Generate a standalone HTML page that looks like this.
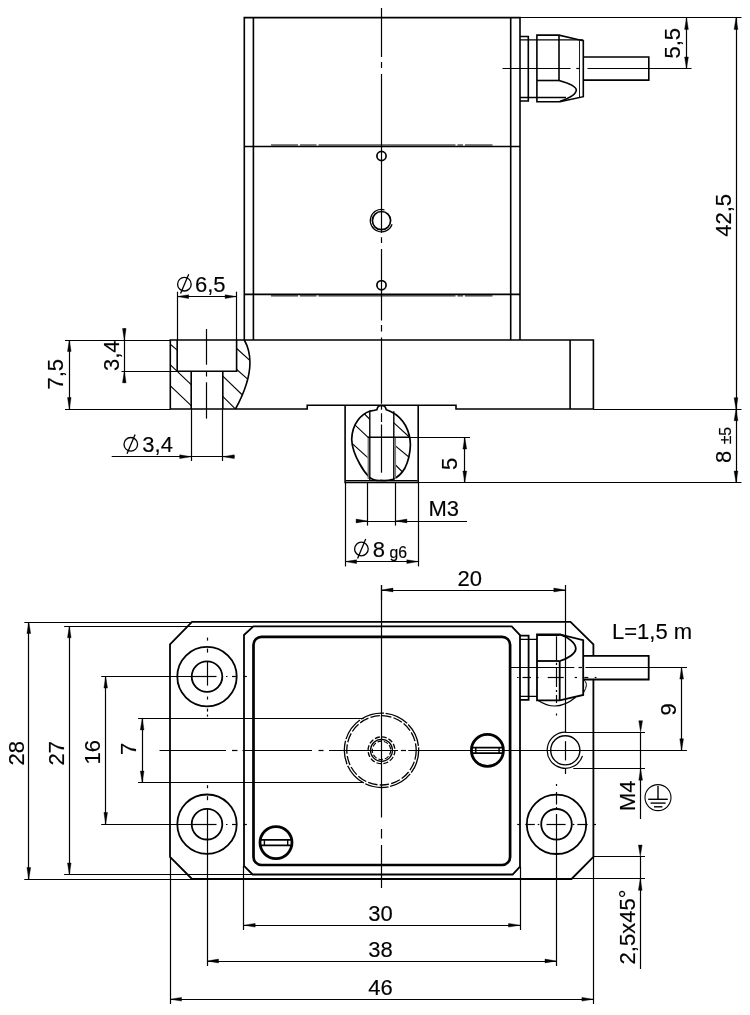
<!DOCTYPE html>
<html lang="de">
<head>
<meta charset="utf-8">
<title>Maßzeichnung</title>
<style>
html,body{margin:0;padding:0;background:#fff;}
body{width:750px;height:1015px;overflow:hidden;}
svg{display:block;opacity:0.999;will-change:transform;}
svg line,svg path,svg circle,svg rect{stroke:#000;}
svg text{font-family:"Liberation Sans",sans-serif;fill:#000;stroke:#000;stroke-width:0.15px;}
</style>
</head>
<body>
<svg width="750" height="1015" viewBox="0 0 750 1015" fill="none" stroke="#000" stroke-linecap="butt" stroke-linejoin="miter">
<rect x="0" y="0" width="750" height="1015" fill="#fff" stroke="none" style="stroke:none"/>
<path d="M244.3 340 V17.6 H520 V340" stroke-width="1.6" fill="none"/>
<line x1="253.4" y1="17.6" x2="253.4" y2="340.0" stroke-width="1.6"/>
<line x1="510.7" y1="17.6" x2="510.7" y2="340.0" stroke-width="1.6"/>
<line x1="244.3" y1="146.5" x2="520.0" y2="146.5" stroke-width="1.6"/>
<line x1="244.3" y1="294.4" x2="520.0" y2="294.4" stroke-width="1.6"/>
<path d="M271 145.0 H298 M300 145.0 H316.5 M318.5 145.0 H455.5 M457.5 145.0 H463 M465 145.0 H492.5" stroke-width="1.0" fill="none"/>
<path d="M271 295.9 H298 M300 295.9 H316.5 M318.5 295.9 H455.5 M457.5 295.9 H463 M465 295.9 H492.5" stroke-width="1.0" fill="none"/>
<circle cx="381.5" cy="156.0" r="4.6" stroke-width="1.7" fill="none"/>
<circle cx="381.5" cy="285.2" r="4.6" stroke-width="1.7" fill="none"/>
<circle cx="381.5" cy="220.6" r="9.1" stroke-width="1.7" fill="none"/>
<path d="M384.4 209.8 A11.2 11.2 0 1 0 392.1 224.2" stroke-width="1.2" fill="none"/>
<line x1="381.5" y1="8.0" x2="381.5" y2="57.0" stroke-width="1.2"/>
<line x1="381.5" y1="62.0" x2="381.5" y2="68.0" stroke-width="1.2"/>
<line x1="381.5" y1="74.0" x2="381.5" y2="232.8" stroke-width="1.2"/>
<line x1="381.5" y1="237.2" x2="381.5" y2="243.0" stroke-width="1.2"/>
<line x1="381.5" y1="249.0" x2="381.5" y2="320.5" stroke-width="1.2"/>
<line x1="381.5" y1="325.0" x2="381.5" y2="331.5" stroke-width="1.2"/>
<line x1="381.5" y1="337.5" x2="381.5" y2="403.8" stroke-width="1.2"/>
<path d="M244.3 340 H170.3 V409 H307.2 V405.3 H456 V409 H593.4 V340 H244.3" stroke-width="1.6" fill="none"/>
<line x1="570.1" y1="340.0" x2="570.1" y2="409.0" stroke-width="1.6"/>
<path d="M177.2 340 V371.3 H236.6 V340" stroke-width="1.6" fill="none"/>
<path d="M191.2 371.3 V409 M222.8 371.3 V409" stroke-width="1.6" fill="none"/>
<path d="M244.3 340 Q259 366 235.5 409" stroke-width="1.6" fill="none"/>
<clipPath id="hc1"><path d="M170.3 340 H177.2 V371.3 H191.2 V409 H170.3 Z M236.6 340 H244.3 Q259 366 235.5 409 H222.8 V371.3 H236.6 Z"/></clipPath>
<g clip-path="url(#hc1)">
<line x1="168.0" y1="342.4" x2="179.0" y2="351.6" stroke-width="1.1"/>
<line x1="168.0" y1="362.7" x2="193.0" y2="386.3" stroke-width="1.1"/>
<line x1="168.0" y1="383.7" x2="193.0" y2="407.3" stroke-width="1.1"/>
<line x1="235.0" y1="347.0" x2="252.0" y2="362.3" stroke-width="1.1"/>
<line x1="235.0" y1="368.0" x2="250.0" y2="381.2" stroke-width="1.1"/>
<line x1="221.0" y1="374.3" x2="245.0" y2="397.5" stroke-width="1.1"/>
<line x1="221.0" y1="394.6" x2="238.0" y2="411.6" stroke-width="1.1"/>
</g>
<line x1="206.5" y1="329.0" x2="206.5" y2="364.7" stroke-width="1.2"/>
<line x1="206.5" y1="371.5" x2="206.5" y2="376.5" stroke-width="1.2"/>
<line x1="206.5" y1="382.3" x2="206.5" y2="418.6" stroke-width="1.2"/>
<path d="M345.1 405.3 V482.4 H418.2 V405.3" stroke-width="1.6" fill="none"/>
<line x1="346.0" y1="480.5" x2="417.4" y2="480.5" stroke-width="1.0"/>
<clipPath id="hc2"><path d="M369.6 411.2 Q374 410.6 376.9 409.7 Q377.5 406.6 379 406 Q381.4 405 384 406 Q385.6 406.6 386.3 409.7 Q389 410.6 391.6 411.9 Q400 416 405.5 425.5 Q410.4 435 410.4 445 Q410 458 404.8 468.3 Q400 476.5 393 479.3 Q387 481 381 480.4 Q374 481 369.6 477.3 Q364 472 359.5 463.5 Q352 450 351.7 439.5 Q352 428 358 420 Q363 413.5 369.6 411.2 Z"/></clipPath>
<g clip-path="url(#hc2)">
<line x1="363.0" y1="412.5" x2="371.0" y2="420.5" stroke-width="1.1"/>
<line x1="354.0" y1="424.1" x2="370.0" y2="439.2" stroke-width="1.1"/>
<line x1="350.0" y1="441.7" x2="370.0" y2="459.6" stroke-width="1.1"/>
<line x1="392.0" y1="421.2" x2="411.0" y2="438.6" stroke-width="1.1"/>
<line x1="393.5" y1="444.3" x2="411.0" y2="458.8" stroke-width="1.1"/>
<line x1="393.5" y1="463.0" x2="405.0" y2="474.5" stroke-width="1.1"/>
<path d="M369.8 400 H393.8 V437.3 H396 V490 H367.6 V437.3 H369.8 Z" fill="#fff" style="stroke:none"/>
</g>
<path d="M369.6 411.2 Q374 410.6 376.9 409.7 Q377.5 406.6 379 406 Q381.4 405 384 406 Q385.6 406.6 386.3 409.7 Q389 410.6 391.6 411.9 Q400 416 405.5 425.5 Q410.4 435 410.4 445 Q410 458 404.8 468.3 Q400 476.5 393 479.3 Q387 481 381 480.4 Q374 481 369.6 477.3 Q364 472 359.5 463.5 Q352 450 351.7 439.5 Q352 428 358 420 Q363 413.5 369.6 411.2 Z" stroke-width="1.7" fill="none"/>
<line x1="369.8" y1="410.8" x2="369.8" y2="480.0" stroke-width="1.4"/>
<line x1="393.8" y1="411.2" x2="393.8" y2="480.0" stroke-width="1.4"/>
<line x1="368.3" y1="438.0" x2="368.3" y2="479.0" stroke-width="1.5" style="stroke:#777"/>
<line x1="395.3" y1="438.0" x2="395.3" y2="479.0" stroke-width="1.5" style="stroke:#777"/>
<line x1="367.6" y1="437.3" x2="409.8" y2="437.3" stroke-width="1.4"/>
<line x1="381.5" y1="406.0" x2="381.5" y2="409.7" stroke-width="1.2"/>
<line x1="381.5" y1="413.3" x2="381.5" y2="422.0" stroke-width="1.2"/>
<line x1="381.5" y1="424.5" x2="381.5" y2="472.7" stroke-width="1.2"/>
<path d="M520 36.5 H528.3 V101 H520" stroke-width="1.6" fill="none"/>
<line x1="520.0" y1="39.9" x2="583.3" y2="39.9" stroke-width="1.3"/>
<line x1="520.0" y1="97.5" x2="566.0" y2="97.5" stroke-width="1.3"/>
<path d="M536.9 35.1 H559 L583.3 40.8 V96.7 L559.8 101.7 H536.9 Z" stroke-width="1.6" fill="none"/>
<line x1="559.0" y1="35.1" x2="559.0" y2="80.5" stroke-width="1.6"/>
<line x1="536.9" y1="80.5" x2="559.0" y2="80.5" stroke-width="1.6"/>
<path d="M559 80.5 C568.3 83.1 576.3 86.9 576.3 90.1 C576.3 94.3 568.3 98.6 559.8 101.6" stroke-width="1.6" fill="none"/>
<line x1="579.5" y1="40.6" x2="579.5" y2="97.2" stroke-width="0.9"/>
<path d="M583.3 57 H648.8 V80.1 H583.3" stroke-width="1.6" fill="none"/>
<line x1="502.5" y1="68.5" x2="570.5" y2="68.5" stroke-width="1.2"/>
<line x1="576.3" y1="68.5" x2="580.0" y2="68.5" stroke-width="1.2"/>
<line x1="587.5" y1="68.5" x2="691.5" y2="68.5" stroke-width="1.2"/>
<line x1="520.0" y1="17.5" x2="741.5" y2="17.5" stroke-width="1.2"/>
<line x1="686.5" y1="17.9" x2="686.5" y2="68.5" stroke-width="1.2"/>
<polygon points="686.5,17.9 684.6,29.4 688.4,29.4" fill="#000" style="stroke:#000;stroke-width:0.4;stroke-linejoin:miter"/>
<polygon points="686.5,68.5 684.6,57.0 688.4,57.0" fill="#000" style="stroke:#000;stroke-width:0.4;stroke-linejoin:miter"/>
<text x="680.3" y="58.6" font-size="22" text-anchor="start" transform="rotate(-90 680.3 58.6)">5,5</text>
<line x1="736.5" y1="17.9" x2="736.5" y2="409.2" stroke-width="1.2"/>
<polygon points="736.0,17.9 734.1,29.4 737.9,29.4" fill="#000" style="stroke:#000;stroke-width:0.4;stroke-linejoin:miter"/>
<polygon points="736.0,409.2 734.1,397.7 737.9,397.7" fill="#000" style="stroke:#000;stroke-width:0.4;stroke-linejoin:miter"/>
<text x="730.7" y="236.8" font-size="22" text-anchor="start" transform="rotate(-90 730.7 236.8)">42,5</text>
<line x1="593.4" y1="409.5" x2="741.5" y2="409.5" stroke-width="1.2"/>
<line x1="418.2" y1="482.5" x2="741.5" y2="482.5" stroke-width="1.2"/>
<line x1="736.5" y1="409.2" x2="736.5" y2="482.6" stroke-width="1.2"/>
<polygon points="736.0,409.2 734.1,420.7 737.9,420.7" fill="#000" style="stroke:#000;stroke-width:0.4;stroke-linejoin:miter"/>
<polygon points="736.0,482.6 734.1,471.1 737.9,471.1" fill="#000" style="stroke:#000;stroke-width:0.4;stroke-linejoin:miter"/>
<text x="730.9" y="463.0" font-size="22" text-anchor="start" transform="rotate(-90 730.9 463.0)">8</text>
<text x="731.4" y="444.3" font-size="15.8" text-anchor="start" transform="rotate(-90 731.4 444.3)">±5</text>
<line x1="65.0" y1="340.5" x2="170.3" y2="340.5" stroke-width="1.2"/>
<line x1="65.0" y1="409.5" x2="170.3" y2="409.5" stroke-width="1.2"/>
<line x1="69.5" y1="340.0" x2="69.5" y2="409.0" stroke-width="1.2"/>
<polygon points="69.3,340.0 67.5,351.5 71.1,351.5" fill="#000" style="stroke:#000;stroke-width:0.4;stroke-linejoin:miter"/>
<polygon points="69.3,409.0 67.5,397.5 71.1,397.5" fill="#000" style="stroke:#000;stroke-width:0.4;stroke-linejoin:miter"/>
<text x="63.4" y="389.5" font-size="22" text-anchor="start" transform="rotate(-90 63.4 389.5)">7,5</text>
<line x1="121.5" y1="371.5" x2="177.2" y2="371.5" stroke-width="1.2"/>
<line x1="124.5" y1="328.3" x2="124.5" y2="383.0" stroke-width="1.2"/>
<polygon points="124.3,340.0 122.5,328.5 126.1,328.5" fill="#000" style="stroke:#000;stroke-width:0.4;stroke-linejoin:miter"/>
<polygon points="124.3,371.3 122.5,382.8 126.1,382.8" fill="#000" style="stroke:#000;stroke-width:0.4;stroke-linejoin:miter"/>
<text x="118.6" y="371.0" font-size="22" text-anchor="start" transform="rotate(-90 118.6 371.0)">3,4</text>
<line x1="177.5" y1="291.7" x2="177.5" y2="340.0" stroke-width="1.2"/>
<line x1="236.5" y1="291.7" x2="236.5" y2="340.0" stroke-width="1.2"/>
<line x1="177.2" y1="296.5" x2="236.6" y2="296.5" stroke-width="1.2"/>
<polygon points="177.2,296.6 188.7,294.8 188.7,298.5" fill="#000" style="stroke:#000;stroke-width:0.4;stroke-linejoin:miter"/>
<polygon points="236.6,296.6 225.1,294.8 225.1,298.5" fill="#000" style="stroke:#000;stroke-width:0.4;stroke-linejoin:miter"/>
<circle cx="184.4" cy="284.2" r="6.8" stroke-width="1.3" fill="none"/>
<path d="M180.6 293.6 L188.7 274.3" stroke-width="1.3" fill="none"/>
<text x="195.0" y="291.5" font-size="22" text-anchor="start">6,5</text>
<line x1="191.5" y1="409.0" x2="191.5" y2="461.0" stroke-width="1.2"/>
<line x1="222.5" y1="409.0" x2="222.5" y2="461.0" stroke-width="1.2"/>
<line x1="111.7" y1="456.5" x2="234.5" y2="456.5" stroke-width="1.2"/>
<polygon points="191.2,456.7 179.7,454.8 179.7,458.6" fill="#000" style="stroke:#000;stroke-width:0.4;stroke-linejoin:miter"/>
<polygon points="222.8,456.7 234.3,454.8 234.3,458.6" fill="#000" style="stroke:#000;stroke-width:0.4;stroke-linejoin:miter"/>
<circle cx="130.8" cy="444.3" r="6.8" stroke-width="1.3" fill="none"/>
<path d="M127.0 453.7 L135.1 434.4" stroke-width="1.3" fill="none"/>
<text x="142.3" y="451.7" font-size="22" text-anchor="start">3,4</text>
<line x1="395.2" y1="437.5" x2="470.0" y2="437.5" stroke-width="1.2"/>
<line x1="464.5" y1="437.6" x2="464.5" y2="482.6" stroke-width="1.2"/>
<polygon points="464.8,437.6 462.9,449.1 466.7,449.1" fill="#000" style="stroke:#000;stroke-width:0.4;stroke-linejoin:miter"/>
<polygon points="464.8,482.6 462.9,471.1 466.7,471.1" fill="#000" style="stroke:#000;stroke-width:0.4;stroke-linejoin:miter"/>
<text x="456.9" y="470.0" font-size="22" text-anchor="start" transform="rotate(-90 456.9 470.0)">5</text>
<line x1="367.5" y1="482.6" x2="367.5" y2="525.6" stroke-width="1.2"/>
<line x1="395.5" y1="482.6" x2="395.5" y2="525.6" stroke-width="1.2"/>
<line x1="356.0" y1="521.5" x2="467.0" y2="521.5" stroke-width="1.2"/>
<polygon points="367.6,521.0 356.1,519.1 356.1,522.9" fill="#000" style="stroke:#000;stroke-width:0.4;stroke-linejoin:miter"/>
<polygon points="395.4,521.0 406.9,519.1 406.9,522.9" fill="#000" style="stroke:#000;stroke-width:0.4;stroke-linejoin:miter"/>
<text x="428.5" y="516.4" font-size="22" text-anchor="start">M3</text>
<line x1="345.5" y1="482.4" x2="345.5" y2="566.4" stroke-width="1.2"/>
<line x1="418.5" y1="482.4" x2="418.5" y2="566.4" stroke-width="1.2"/>
<line x1="345.1" y1="561.5" x2="418.3" y2="561.5" stroke-width="1.2"/>
<polygon points="345.1,561.6 356.6,559.8 356.6,563.5" fill="#000" style="stroke:#000;stroke-width:0.4;stroke-linejoin:miter"/>
<polygon points="418.3,561.6 406.8,559.8 406.8,563.5" fill="#000" style="stroke:#000;stroke-width:0.4;stroke-linejoin:miter"/>
<circle cx="361.4" cy="549.0" r="6.8" stroke-width="1.3" fill="none"/>
<path d="M357.6 558.4 L365.7 539.1" stroke-width="1.3" fill="none"/>
<text x="372.8" y="556.7" font-size="22" text-anchor="start">8</text>
<text x="389.5" y="557.7" font-size="15.8" text-anchor="start">g6</text>
<path d="M593.4 655.8 V644.3 L570.5 621.8 H192 L170 644.3 V857 L192 879 H571.5 L593.4 857 V679.5" stroke-width="1.8" fill="none"/>
<path d="M253.4 626.3 H511.7 L520 635.2 V866.6 L512.6 874.5 H252.6 L244 865.8 V635 Z" stroke-width="1.8" fill="none"/>
<rect x="253.5" y="636.8" width="256.6" height="228.2" rx="8" ry="8" stroke-width="2.7" fill="none"/>
<circle cx="207.0" cy="676.6" r="29.7" stroke-width="1.8" fill="none"/>
<circle cx="207.0" cy="676.6" r="15.3" stroke-width="1.8" fill="none"/>
<circle cx="207.0" cy="824.2" r="29.7" stroke-width="1.8" fill="none"/>
<circle cx="207.0" cy="824.2" r="15.3" stroke-width="1.8" fill="none"/>
<circle cx="556.5" cy="824.3" r="29.7" stroke-width="1.8" fill="none"/>
<circle cx="556.5" cy="824.3" r="15.3" stroke-width="1.8" fill="none"/>
<line x1="192.0" y1="676.5" x2="216.5" y2="676.5" stroke-width="1.2"/>
<line x1="232.0" y1="676.5" x2="236.0" y2="676.5" stroke-width="1.2"/>
<line x1="226.0" y1="676.5" x2="227.5" y2="676.5" stroke-width="1.2"/>
<line x1="243.6" y1="676.5" x2="246.8" y2="676.5" stroke-width="1.2"/>
<line x1="207.5" y1="637.6" x2="207.5" y2="640.6" stroke-width="1.2"/>
<line x1="207.5" y1="648.6" x2="207.5" y2="652.6" stroke-width="1.2"/>
<line x1="207.5" y1="661.6" x2="207.5" y2="685.6" stroke-width="1.2"/>
<line x1="192.0" y1="824.5" x2="216.5" y2="824.5" stroke-width="1.2"/>
<line x1="232.0" y1="824.5" x2="236.0" y2="824.5" stroke-width="1.2"/>
<line x1="226.0" y1="824.5" x2="227.5" y2="824.5" stroke-width="1.2"/>
<line x1="243.6" y1="824.5" x2="246.8" y2="824.5" stroke-width="1.2"/>
<line x1="207.5" y1="785.2" x2="207.5" y2="788.2" stroke-width="1.2"/>
<line x1="207.5" y1="796.2" x2="207.5" y2="800.2" stroke-width="1.2"/>
<line x1="207.5" y1="809.2" x2="207.5" y2="833.2" stroke-width="1.2"/>
<line x1="207.5" y1="696.6" x2="207.5" y2="699.6" stroke-width="1.2"/>
<line x1="207.5" y1="708.6" x2="207.5" y2="711.6" stroke-width="1.2"/>
<line x1="207.5" y1="714.6" x2="207.5" y2="716.6" stroke-width="1.2"/>
<line x1="517.2" y1="824.5" x2="519.4" y2="824.5" stroke-width="1.2"/>
<line x1="525.3" y1="824.5" x2="534.8" y2="824.5" stroke-width="1.2"/>
<line x1="537.7" y1="824.5" x2="539.3" y2="824.5" stroke-width="1.2"/>
<line x1="546.5" y1="824.5" x2="565.6" y2="824.5" stroke-width="1.2"/>
<line x1="572.6" y1="824.5" x2="574.4" y2="824.5" stroke-width="1.2"/>
<line x1="577.3" y1="824.5" x2="587.6" y2="824.5" stroke-width="1.2"/>
<line x1="593.5" y1="824.5" x2="596.0" y2="824.5" stroke-width="1.2"/>
<circle cx="381.5" cy="750.3" r="37.2" stroke-width="1.3" fill="none" stroke-dasharray="24 1.6"/>
<circle cx="381.5" cy="750.3" r="34.7" stroke-width="1.3" fill="none" stroke-dasharray="9.5 2.2"/>
<circle cx="381.5" cy="750.3" r="13.4" stroke-width="1.3" fill="none" stroke-dasharray="5 2"/>
<circle cx="381.5" cy="750.3" r="11.0" stroke-width="1.2" fill="none"/>
<circle cx="381.5" cy="750.3" r="9.2" stroke-width="1.1" fill="none" stroke-dasharray="4.5 2"/>
<circle cx="487.4" cy="750.4" r="16.0" stroke-width="2.8" fill="none"/>
<path d="M471.8 747.7 H503.0 M471.8 753.1 H503.0" stroke-width="1.7" fill="none"/>
<path d="M475.8 747.7 V753.1 M499.1 747.7 V753.1" stroke-width="1.4" fill="none"/>
<circle cx="276.0" cy="842.6" r="16.0" stroke-width="2.8" fill="none"/>
<path d="M260.4 839.9 H291.6 M260.4 845.3 H291.6" stroke-width="1.7" fill="none"/>
<path d="M264.4 839.9 V845.3 M287.7 839.9 V845.3" stroke-width="1.4" fill="none"/>
<circle cx="565.3" cy="750.3" r="14.6" stroke-width="1.4" fill="none"/>
<path d="M566.3 732.2 A18.1 18.1 0 1 0 582.5 755.9" stroke-width="1.2" fill="none"/>
<line x1="159.5" y1="750.5" x2="226.0" y2="750.5" stroke-width="1.2"/>
<line x1="232.0" y1="750.5" x2="237.5" y2="750.5" stroke-width="1.2"/>
<line x1="242.5" y1="750.5" x2="312.0" y2="750.5" stroke-width="1.2"/>
<line x1="318.5" y1="750.5" x2="323.5" y2="750.5" stroke-width="1.2"/>
<line x1="329.0" y1="750.5" x2="398.0" y2="750.5" stroke-width="1.2"/>
<line x1="400.9" y1="750.5" x2="406.0" y2="750.5" stroke-width="1.2"/>
<line x1="408.2" y1="750.5" x2="686.9" y2="750.5" stroke-width="1.2"/>
<line x1="381.5" y1="585.0" x2="381.5" y2="817.5" stroke-width="1.2"/>
<line x1="381.5" y1="829.0" x2="381.5" y2="838.5" stroke-width="1.2"/>
<line x1="381.5" y1="845.0" x2="381.5" y2="888.0" stroke-width="1.2"/>
<path d="M520 635.7 H528.6 V699.8 H520" stroke-width="1.8" fill="none"/>
<path d="M520 639.4 H537 M520 696.3 H537" stroke-width="1.3" fill="none"/>
<path d="M537 634.3 H559.7 L583.2 640.1 V695 L559.7 700.4 H537 Z" stroke-width="1.8" fill="none"/>
<line x1="537.0" y1="635.5" x2="559.7" y2="635.5" stroke-width="1.0"/>
<line x1="537.0" y1="661.0" x2="559.7" y2="661.0" stroke-width="1.8"/>
<line x1="559.7" y1="661.0" x2="559.7" y2="700.4" stroke-width="1.8"/>
<path d="M559.7 661 C568 658.5 575.8 653.5 575.8 648.5 C575.8 643 568 637 559.7 634.4" stroke-width="1.8" fill="none"/>
<path d="M538.3 700.4 Q556.5 713 575.7 697.2" stroke-width="1.2" fill="none"/>
<path d="M583.4 679.7 Q589.5 683 583.4 693" stroke-width="1.0" fill="none"/>
<path d="M583.2 655.8 H648.7 V679.5 H583.2" stroke-width="1.8" fill="none"/>
<line x1="511.0" y1="667.5" x2="574.3" y2="667.5" stroke-width="1.2"/>
<line x1="578.5" y1="667.5" x2="582.0" y2="667.5" stroke-width="1.2"/>
<line x1="585.5" y1="667.5" x2="687.0" y2="667.5" stroke-width="1.2"/>
<line x1="517.0" y1="677.5" x2="518.6" y2="677.5" stroke-width="1.2"/>
<line x1="522.5" y1="677.5" x2="531.0" y2="677.5" stroke-width="1.2"/>
<line x1="536.0" y1="677.5" x2="538.5" y2="677.5" stroke-width="1.2"/>
<line x1="547.7" y1="677.5" x2="563.7" y2="677.5" stroke-width="1.2"/>
<line x1="574.7" y1="677.5" x2="577.0" y2="677.5" stroke-width="1.2"/>
<line x1="584.3" y1="677.5" x2="588.3" y2="677.5" stroke-width="1.2"/>
<line x1="594.7" y1="677.5" x2="596.5" y2="677.5" stroke-width="1.2"/>
<line x1="556.5" y1="636.3" x2="556.5" y2="660.3" stroke-width="1.2"/>
<line x1="556.5" y1="662.8" x2="556.5" y2="665.0" stroke-width="1.2"/>
<line x1="556.5" y1="667.7" x2="556.5" y2="687.0" stroke-width="1.2"/>
<line x1="556.5" y1="690.0" x2="556.5" y2="692.0" stroke-width="1.2"/>
<line x1="556.5" y1="695.0" x2="556.5" y2="703.0" stroke-width="1.2"/>
<line x1="556.5" y1="713.5" x2="556.5" y2="715.5" stroke-width="1.2"/>
<line x1="556.5" y1="784.0" x2="556.5" y2="786.0" stroke-width="1.2"/>
<line x1="556.5" y1="792.0" x2="556.5" y2="804.5" stroke-width="1.2"/>
<line x1="556.5" y1="807.0" x2="556.5" y2="808.5" stroke-width="1.2"/>
<line x1="556.5" y1="814.0" x2="556.5" y2="966.0" stroke-width="1.2"/>
<line x1="381.5" y1="585.0" x2="381.5" y2="600.0" stroke-width="1.2"/>
<line x1="565.5" y1="585.0" x2="565.5" y2="732.2" stroke-width="1.2"/>
<line x1="381.5" y1="590.5" x2="565.3" y2="590.5" stroke-width="1.2"/>
<polygon points="381.5,590.0 393.0,588.1 393.0,591.9" fill="#000" style="stroke:#000;stroke-width:0.4;stroke-linejoin:miter"/>
<polygon points="565.3,590.0 553.8,588.1 553.8,591.9" fill="#000" style="stroke:#000;stroke-width:0.4;stroke-linejoin:miter"/>
<text x="457.5" y="585.6" font-size="22" text-anchor="start">20</text>
<text x="612.0" y="638.6" font-size="22" text-anchor="start">L=1,5 m</text>
<line x1="681.5" y1="667.6" x2="681.5" y2="750.3" stroke-width="1.2"/>
<polygon points="681.6,667.6 679.8,679.1 683.5,679.1" fill="#000" style="stroke:#000;stroke-width:0.4;stroke-linejoin:miter"/>
<polygon points="681.6,750.3 679.8,738.8 683.5,738.8" fill="#000" style="stroke:#000;stroke-width:0.4;stroke-linejoin:miter"/>
<text x="676.1" y="715.6" font-size="22" text-anchor="start" transform="rotate(-90 676.1 715.6)">9</text>
<line x1="565.3" y1="732.5" x2="645.0" y2="732.5" stroke-width="1.2"/>
<line x1="573.3" y1="768.5" x2="645.0" y2="768.5" stroke-width="1.2"/>
<line x1="565.5" y1="741.2" x2="565.5" y2="760.4" stroke-width="1.2"/>
<line x1="565.5" y1="768.7" x2="565.5" y2="774.0" stroke-width="1.2"/>
<line x1="640.5" y1="732.2" x2="640.5" y2="819.0" stroke-width="1.2"/>
<polygon points="640.6,732.2 638.8,720.7 642.5,720.7" fill="#000" style="stroke:#000;stroke-width:0.4;stroke-linejoin:miter"/>
<polygon points="640.6,768.7 638.8,780.2 642.5,780.2" fill="#000" style="stroke:#000;stroke-width:0.4;stroke-linejoin:miter"/>
<text x="634.8" y="811.0" font-size="22" text-anchor="start" transform="rotate(-90 634.8 811.0)">M4</text>
<circle cx="658.0" cy="797.6" r="13.0" stroke-width="1.1" fill="none"/>
<line x1="658.0" y1="786.0" x2="658.0" y2="799.0" stroke-width="1.4"/>
<line x1="648.2" y1="799.3" x2="667.8" y2="799.3" stroke-width="1.4"/>
<line x1="650.6" y1="803.1" x2="665.6" y2="803.1" stroke-width="1.4"/>
<line x1="654.0" y1="806.8" x2="662.4" y2="806.8" stroke-width="1.4"/>
<line x1="593.4" y1="856.5" x2="645.0" y2="856.5" stroke-width="1.2"/>
<line x1="571.5" y1="878.5" x2="645.0" y2="878.5" stroke-width="1.2"/>
<line x1="640.5" y1="856.6" x2="640.5" y2="969.0" stroke-width="1.2"/>
<polygon points="640.3,856.6 638.4,845.1 642.1,845.1" fill="#000" style="stroke:#000;stroke-width:0.4;stroke-linejoin:miter"/>
<polygon points="640.3,878.8 638.4,890.3 642.1,890.3" fill="#000" style="stroke:#000;stroke-width:0.4;stroke-linejoin:miter"/>
<text x="635.1" y="964.4" font-size="22" text-anchor="start" transform="rotate(-90 635.1 964.4)">2,5x45°</text>
<line x1="24.3" y1="622.5" x2="192.0" y2="622.5" stroke-width="1.2"/>
<line x1="24.3" y1="879.5" x2="192.0" y2="879.5" stroke-width="1.2"/>
<line x1="28.5" y1="622.0" x2="28.5" y2="879.0" stroke-width="1.2"/>
<polygon points="28.8,622.0 26.9,633.5 30.7,633.5" fill="#000" style="stroke:#000;stroke-width:0.4;stroke-linejoin:miter"/>
<polygon points="28.8,879.0 26.9,867.5 30.7,867.5" fill="#000" style="stroke:#000;stroke-width:0.4;stroke-linejoin:miter"/>
<text x="24.3" y="765.5" font-size="22" text-anchor="start" transform="rotate(-90 24.3 765.5)">28</text>
<line x1="64.1" y1="626.5" x2="253.4" y2="626.5" stroke-width="1.2"/>
<line x1="64.1" y1="874.5" x2="252.6" y2="874.5" stroke-width="1.2"/>
<line x1="69.5" y1="626.3" x2="69.5" y2="874.5" stroke-width="1.2"/>
<polygon points="69.3,626.3 67.5,637.8 71.1,637.8" fill="#000" style="stroke:#000;stroke-width:0.4;stroke-linejoin:miter"/>
<polygon points="69.3,874.5 67.5,863.0 71.1,863.0" fill="#000" style="stroke:#000;stroke-width:0.4;stroke-linejoin:miter"/>
<text x="64.1" y="765.5" font-size="22" text-anchor="start" transform="rotate(-90 64.1 765.5)">27</text>
<line x1="101.2" y1="676.5" x2="192.0" y2="676.5" stroke-width="1.2"/>
<line x1="101.2" y1="824.5" x2="192.0" y2="824.5" stroke-width="1.2"/>
<line x1="105.5" y1="676.6" x2="105.5" y2="824.0" stroke-width="1.2"/>
<polygon points="105.7,676.6 103.9,688.1 107.5,688.1" fill="#000" style="stroke:#000;stroke-width:0.4;stroke-linejoin:miter"/>
<polygon points="105.7,824.0 103.9,812.5 107.5,812.5" fill="#000" style="stroke:#000;stroke-width:0.4;stroke-linejoin:miter"/>
<text x="99.7" y="764.5" font-size="22" text-anchor="start" transform="rotate(-90 99.7 764.5)">16</text>
<line x1="138.0" y1="718.5" x2="363.5" y2="718.5" stroke-width="1.2"/>
<line x1="138.0" y1="782.5" x2="363.5" y2="782.5" stroke-width="1.2"/>
<line x1="142.5" y1="718.4" x2="142.5" y2="782.6" stroke-width="1.2"/>
<polygon points="142.2,718.4 140.3,729.9 144.0,729.9" fill="#000" style="stroke:#000;stroke-width:0.4;stroke-linejoin:miter"/>
<polygon points="142.2,782.6 140.3,771.1 144.0,771.1" fill="#000" style="stroke:#000;stroke-width:0.4;stroke-linejoin:miter"/>
<text x="136.3" y="755.0" font-size="22" text-anchor="start" transform="rotate(-90 136.3 755.0)">7</text>
<line x1="243.5" y1="865.8" x2="243.5" y2="930.0" stroke-width="1.2"/>
<line x1="520.5" y1="866.6" x2="520.5" y2="930.0" stroke-width="1.2"/>
<line x1="243.7" y1="925.5" x2="520.0" y2="925.5" stroke-width="1.2"/>
<polygon points="243.7,925.2 255.2,923.4 255.2,927.1" fill="#000" style="stroke:#000;stroke-width:0.4;stroke-linejoin:miter"/>
<polygon points="520.0,925.2 508.5,923.4 508.5,927.1" fill="#000" style="stroke:#000;stroke-width:0.4;stroke-linejoin:miter"/>
<text x="368.2" y="920.6" font-size="22" text-anchor="start">30</text>
<line x1="207.5" y1="833.0" x2="207.5" y2="966.0" stroke-width="1.2"/>
<line x1="207.0" y1="961.5" x2="556.5" y2="961.5" stroke-width="1.2"/>
<polygon points="207.0,961.0 218.5,959.1 218.5,962.9" fill="#000" style="stroke:#000;stroke-width:0.4;stroke-linejoin:miter"/>
<polygon points="556.5,961.0 545.0,959.1 545.0,962.9" fill="#000" style="stroke:#000;stroke-width:0.4;stroke-linejoin:miter"/>
<text x="368.2" y="957.1" font-size="22" text-anchor="start">38</text>
<line x1="170.5" y1="857.0" x2="170.5" y2="1004.0" stroke-width="1.2"/>
<line x1="593.5" y1="857.0" x2="593.5" y2="1004.0" stroke-width="1.2"/>
<line x1="170.0" y1="999.5" x2="593.4" y2="999.5" stroke-width="1.2"/>
<polygon points="170.0,999.2 181.5,997.4 181.5,1001.1" fill="#000" style="stroke:#000;stroke-width:0.4;stroke-linejoin:miter"/>
<polygon points="593.4,999.2 581.9,997.4 581.9,1001.1" fill="#000" style="stroke:#000;stroke-width:0.4;stroke-linejoin:miter"/>
<text x="368.2" y="994.7" font-size="22" text-anchor="start">46</text>
</svg>
</body>
</html>
